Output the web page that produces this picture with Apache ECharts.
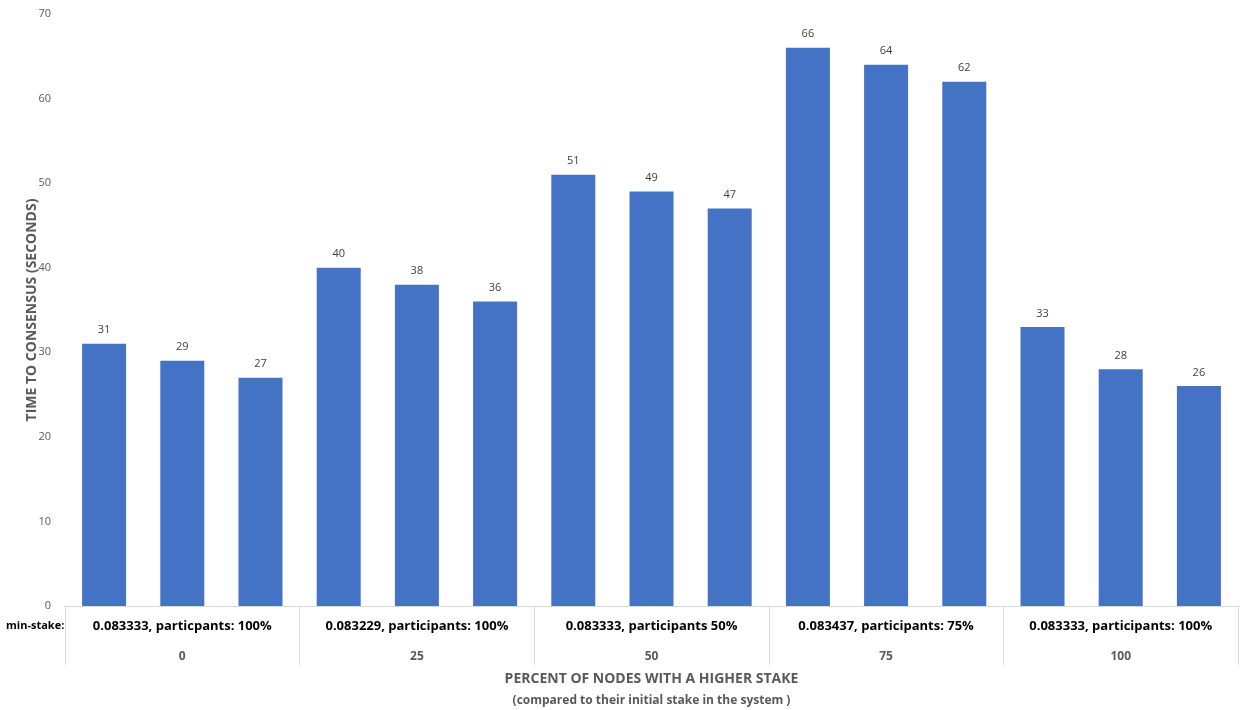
<!DOCTYPE html>
<html lang="en">

<head>
  <meta charset="utf-8">
  <title>Time to consensus</title>
  <script src="https://cdn.jsdelivr.net/npm/echarts@6/dist/echarts.min.js"></script>
  <style>
    html, body { margin: 0; padding: 0; background: #fff; }
    #main { width: 1241px; height: 710px; }
  </style>
</head>

<body>
  <div id="main"></div>

  <script>
    // bar categories (3 runs per group, labels not shown)
    var barCats = ['0-a', '0-b', '0-c', '25-a', '25-b', '25-c', '50-a', '50-b', '50-c',
      '75-a', '75-b', '75-c', '100-a', '100-b', '100-c'];
    var values = [31, 29, 27, 40, 38, 36, 51, 49, 47, 66, 64, 62, 33, 28, 26];
    // group labels (min-stake row)
    var groupLabels = ['0.083333, particpants: 100%', '0.083229, participants: 100%',
      '0.083333, participants 50%', '0.083437, participants: 75%', '0.083333, participants: 100%'];
    // percent row
    var percents = ['0', '25', '50', '75', '100'];

    var font = 'Open Sans';
    var myChart = echarts.init(document.getElementById('main'));

    var option = {
      animation: false,
      textStyle: { fontFamily: font },
      // fixed plot area, no auto-shrinking for labels
      grid: { left: 65, right: 3, top: 14, bottom: 104, outerBoundsMode: 'none', containLabel: false },
      xAxis: [{
        type: 'category',
        data: barCats,
        axisLine: { lineStyle: { color: '#d9d9d9', width: 1 } },
        axisTick: { show: false },
        axisLabel: { show: false }
      }, {
        type: 'category',
        data: groupLabels,
        position: 'bottom',
        axisLine: { show: false },
        axisTick: { show: true, length: 59, lineStyle: { color: '#d9d9d9' } },
        axisLabel: { margin: 14, color: '#000', fontWeight: 'bold', fontSize: 13, interval: 0 }
      }, {
        type: 'category',
        data: percents,
        position: 'bottom',
        axisLine: { show: false },
        axisTick: { show: false },
        axisLabel: { margin: 45, color: '#595959', fontWeight: 'bold', fontSize: 12, interval: 0 },
        name: '{t|PERCENT OF NODES WITH A HIGHER STAKE}\n{s|(compared to their initial stake in the system )}',
        nameLocation: 'middle',
        nameGap: 62,
        nameMoveOverlap: false,
        nameTextStyle: {
          rich: {
            t: { fontSize: 14, fontWeight: 'bold', color: '#595959', lineHeight: 22, fontFamily: font },
            s: { fontSize: 12, fontWeight: 'bold', color: '#595959', lineHeight: 22, fontFamily: font }
          }
        }
      }],
      yAxis: {
        type: 'value',
        min: 0,
        max: 70,
        interval: 10,
        axisLine: { show: false },
        axisTick: { show: false },
        splitLine: { show: false },
        axisLabel: { color: '#595959', fontSize: 11, margin: 14 },
        name: 'TIME TO CONSENSUS (SECONDS)',
        nameLocation: 'middle',
        nameGap: 26,
        nameMoveOverlap: false,
        nameTextStyle: { color: '#595959', fontWeight: 'bold', fontSize: 14 }
      },
      graphic: [{
        type: 'text',
        left: 6,
        top: 620,
        style: { text: 'min-stake:', fill: '#000', font: 'bold 11px "Open Sans"' }
      }],
      series: [{
        type: 'bar',
        data: values,
        barWidth: 44,
        itemStyle: { color: '#4472C4' },
        label: { show: true, position: 'top', distance: 8, color: '#404040', fontSize: 11 }
      }]
    };

    myChart.setOption(option);
  </script>
</body>

</html>
